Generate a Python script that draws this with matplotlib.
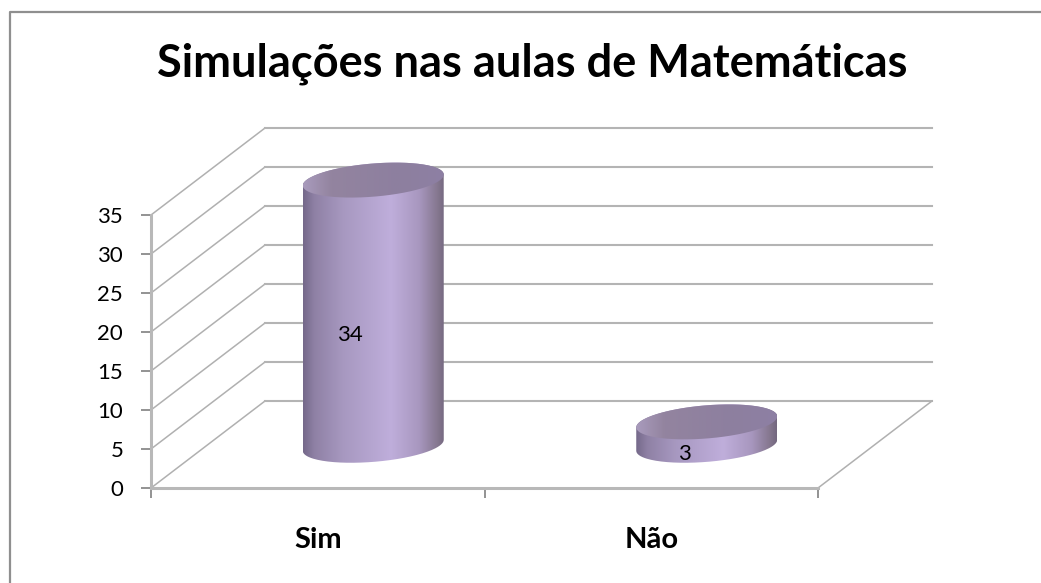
import numpy as np
import matplotlib
matplotlib.use("Agg")
import matplotlib.pyplot as plt
from matplotlib.colors import LinearSegmentedColormap
from matplotlib.lines import Line2D
from matplotlib.patches import PathPatch
from matplotlib.path import Path

categories = ["Sim", "Não"]
values = [34, 3]
y_ticks = [0, 5, 10, 15, 20, 25, 30, 35]
title = "Simulações nas aulas de Matemáticas"

W, H = 1041, 583
plt.rcParams["font.family"] = ["Lato", "DejaVu Sans"]
fig = plt.figure(figsize=(W / 100, H / 100), dpi=100, facecolor="white")

# axes box in pixels
L, R, B, T = 151, 818, 488, 215
ax = fig.add_axes([L / W, 1 - B / H, (R - L) / W, (B - T) / H])
ax.set_xlim(0, len(categories))
ax.set_ylim(0, 35)
ax.patch.set_alpha(0)

px = (R - L) / len(categories)   # pixels per x unit
py = (B - T) / 35                # pixels per y unit
DX, DY = 114 / px, 87 / py       # 3-D depth offset
GRID = "#b4b4b4"

# outer frame: only the top and left edges are visible
fig.add_artist(Line2D([9.5 / W, 9.5 / W, 1], [0, 1 - 11.5 / H, 1 - 11.5 / H],
                      transform=fig.transFigure, color="#8f8f8f", linewidth=1.6))
fig.text(532 / W, 1 - 63.5 / H, title, ha="center", va="center",
         fontsize=32.5, fontweight="bold", color="black")

# walls and floor
for v in y_ticks:
    ax.plot([0, DX], [v, v + DY], color="#b0b0b0", lw=1.1, clip_on=False, zorder=1)
    ax.plot([DX, 2 + DX], [v + DY, v + DY], color=GRID, lw=1.5, clip_on=False, zorder=1)
ax.plot([2, 2 + DX], [0, DY], color="#b0b0b0", lw=1.1, clip_on=False, zorder=1)

cmap_side = LinearSegmentedColormap.from_list(
    "side", [(0, "#75698a"), (0.08, "#8f81a5"), (0.28, "#a798c0"),
             (0.62, "#bfaedb"), (0.82, "#a897bf"), (0.95, "#85778f"), (1, "#74687f")])
cmap_top = LinearSegmentedColormap.from_list(
    "top", [(0, "#a99bbd"), (0.2, "#93849f"), (0.7, "#8d7f9f"), (1, "#8e80a4")])

HALF = 70.5 / px      # cylinder half width
SEMI = 16.6 / py      # ellipse half height
SKEW = 5.5 / py       # ellipse tilt
t = np.linspace(0, 2 * np.pi, 181)


def rim(cx, cy, tt):
    return cx + HALF * np.cos(tt), cy + SEMI * np.sin(tt) + SKEW * np.cos(tt)


def gradient(path, cmap, extent, z):
    im = ax.imshow(np.linspace(0, 1, 256)[None, :], cmap=cmap, extent=extent,
                   aspect="auto", zorder=z)
    im.set_clip_box(fig.bbox)
    im.set_clip_path(PathPatch(path, transform=ax.transData))


for i, v in enumerate(values):
    cx, base = i + 0.5 + DX / 2 - 1.5 / px, DY / 2 - 0.1
    top = base + v
    lo = np.linspace(np.pi, 2 * np.pi, 91)
    hi = np.linspace(0, np.pi, 91)
    xb, yb = rim(cx, base, lo)
    xt, yt = rim(cx, top, hi)
    side = Path(np.column_stack([np.r_[xb, xt], np.r_[yb, yt]]))
    ext = [cx - HALF, cx + HALF, base - 4, top + 4]
    gradient(side, cmap_side, ext, 3 + i)
    xe, ye = rim(cx, top, t)
    gradient(Path(np.column_stack([xe, ye])), cmap_top, ext, 3.5 + i)

ax.set_xlim(0, len(categories))
ax.set_ylim(0, 35)

# data labels
ax.text(0.5 + 0.095, 19.6, str(values[0]), ha="center", va="center", fontsize=16, zorder=9)
ax.text(1.5 + 0.1, 4.3, str(values[1]), ha="center", va="center", fontsize=16, zorder=9)

# axes
for s in ("top", "right"):
    ax.spines[s].set_visible(False)
for s in ("left", "bottom"):
    ax.spines[s].set_color("#b8b8b8")
    ax.spines[s].set_linewidth(2.2)
    ax.spines[s].set_zorder(2)
ax.set_yticks(y_ticks)
ax.set_yticklabels([str(v) for v in y_ticks], fontsize=16)
ax.tick_params(axis="y", length=7, width=1.2, color="#808080", pad=13)
ax.set_xticks(range(len(categories) + 1))
ax.set_xticklabels([""] * (len(categories) + 1))
ax.tick_params(axis="x", which="major", length=7, width=1.2, color="#808080")
ax.set_xticks([0.5, 1.5], minor=True)
ax.set_xticklabels(categories, minor=True, fontsize=21, fontweight="bold")
ax.tick_params(axis="x", which="minor", length=0, pad=28)

fig.savefig("out.png", dpi=100)
